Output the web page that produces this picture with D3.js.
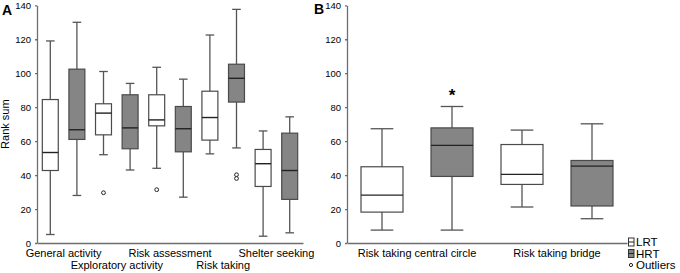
<!DOCTYPE html>
<html>
<head>
<meta charset="utf-8">
<script src="https://cdn.jsdelivr.net/npm/d3@7"></script>
<style>
body { margin: 0; background: #fff; }
svg { display: block; font-family: "Liberation Sans", Arial, sans-serif; }
</style>
</head>
<body>
<svg id="chart" width="680" height="273"></svg>
<script>
var svg = d3.select("#chart");

var groups = ["LRT", "HRT"];

// panel A
var catsA = ["General activity", "Exploratory activity", "Risk assessment", "Risk taking", "Shelter seeking"];
// order: cat0 LRT, cat0 HRT, cat1 LRT, ...
var lowA  = [5, 28, 52, 43, 44, 27, 52.5, 56, 4, 6];
var q1A   = [42.7, 61, 63.7, 55.5, 69, 53.7, 60.6, 83, 33.3, 25.7];
var medA  = [53.3, 66.7, 76.5, 67.8, 72.5, 67.3, 73.9, 97, 46.7, 42.7];
var q3A   = [84.5, 102.4, 82, 87.3, 87.3, 80.4, 89.4, 105.3, 55.1, 64.7];
var highA = [119, 130, 101, 94, 103.5, 96.5, 122.5, 137.6, 66, 74.3];
var outCat = ["Exploratory activity", "Risk assessment", "Risk taking", "Risk taking"];
var outGrp = ["LRT", "LRT", "HRT", "HRT"];
var outVal = [29.6, 31.4, 40.2, 38];

// panel B
var catsB = ["Risk taking central circle", "Risk taking bridge"];
var lowB  = [7.6, 7.6, 21.2, 14.3];
var q1B   = [18.2, 39.2, 34.5, 21.8];
var medB  = [28.2, 57.5, 40.4, 45.3];
var q3B   = [44.9, 67.8, 58, 48.6];
var highB = [67.3, 80.4, 66.5, 70.2];
var starCat = "Risk taking central circle", starGrp = "HRT";

var yTicks = [0, 20, 40, 60, 80, 100, 120, 140];
var legendLabels = ["LRT", "HRT", "Outliers"];

var yTop = 5.3, yBottom = 243;
var y = d3.scaleLinear().domain([0, 140]).range([yBottom, yTop]);

var fills = { LRT: "#ffffff", HRT: "#858585" };
var axisCol = "#6e6e6e";

function panel(cats, low, q1, med, q3, high, x0, x1, twoRows) {
	var g = svg.append("g");
	var xc = d3.scaleBand().domain(cats).range([x0, x1]);
	var xg = d3.scaleBand().domain(groups).range([0, xc.bandwidth()])
		.paddingInner(0.4).paddingOuter(0.2);

	var yAxis = g.append("g")
		.attr("transform", `translate(${x0},0)`)
		.call(d3.axisLeft(y).tickValues(yTicks).tickSize(2).tickSizeOuter(0).tickPadding(4));
	var xAxis = g.append("g")
		.attr("transform", `translate(0,${yBottom})`)
		.call(d3.axisBottom(xc).tickSize(0).tickPadding(6));
	[yAxis, xAxis].forEach(a => {
		a.selectAll("path, line").attr("stroke", axisCol).attr("stroke-width", 1.3);
		a.selectAll("text").attr("fill", "#000").attr("font-family", "Liberation Sans, Arial, sans-serif");
	});
	yAxis.selectAll("text").attr("font-size", "9.5px");
	xAxis.selectAll("text").attr("font-size", "11px")
		.attr("y", (d, i) => twoRows && i % 2 == 1 ? 18.5 : 6);

	var rows = [];
	cats.forEach((c, ci) => groups.forEach((gr, gi) => {
		var k = ci * 2 + gi;
		rows.push({ cat: c, grp: gr, low: low[k], q1: q1[k], med: med[k], q3: q3[k], high: high[k] });
	}));

	var bw = xg.bandwidth();
	var box = g.selectAll(".box").data(rows).enter().append("g")
		.attr("transform", d => `translate(${xc(d.cat) + xg(d.grp)},0)`);
	box.append("line")
		.attr("x1", bw / 2).attr("x2", bw / 2)
		.attr("y1", d => y(d.high)).attr("y2", d => y(d.low))
		.attr("stroke", "#555").attr("stroke-width", 1.3);
	box.selectAll(".cap").data(d => [d.low, d.high]).enter().append("line")
		.attr("x1", bw * 0.23).attr("x2", bw * 0.77)
		.attr("y1", d => y(d)).attr("y2", d => y(d))
		.attr("stroke", "#555").attr("stroke-width", 1.3);
	box.append("rect")
		.attr("x", 0).attr("width", bw)
		.attr("y", d => y(d.q3)).attr("height", d => y(d.q1) - y(d.q3))
		.attr("fill", d => fills[d.grp])
		.attr("stroke", "#4a4a4a").attr("stroke-width", 1.2);
	box.append("line")
		.attr("x1", 0).attr("x2", bw)
		.attr("y1", d => y(d.med)).attr("y2", d => y(d.med))
		.attr("stroke", "#222").attr("stroke-width", 1.4);

	return { g: g, xc: xc, xg: xg };
}

var pA = panel(catsA, lowA, q1A, medA, q3A, highA, 37, 303, true);
var pB = panel(catsB, lowB, q1B, medB, q3B, highB, 347, 627, false);

// outliers in A
pA.g.selectAll(".outlier").data(outVal).enter().append("circle")
	.attr("cx", (d, i) => pA.xc(outCat[i]) + pA.xg(outGrp[i]) + pA.xg.bandwidth() / 2)
	.attr("cy", d => y(d))
	.attr("r", 1.9)
	.attr("fill", "#fff").attr("stroke", "#222").attr("stroke-width", 1);

// significance star in B
pB.g.append("text")
	.attr("x", pB.xc(starCat) + pB.xg(starGrp) + pB.xg.bandwidth() / 2)
	.attr("y", y(highB[1]))
	.attr("dy", "-5px")
	.attr("text-anchor", "middle")
	.attr("font-size", "17px")
	.attr("font-weight", "bold")
	.text("*");

// panel letters
svg.append("text").attr("x", 2).attr("y", 15).attr("font-size", "14px").attr("font-weight", "bold").text("A");
svg.append("text").attr("x", 314).attr("y", 14).attr("font-size", "14px").attr("font-weight", "bold").text("B");

// y label
svg.append("text")
	.attr("transform", `translate(9,${(yTop + yBottom) / 2}) rotate(-90)`)
	.attr("text-anchor", "middle")
	.attr("font-size", "11px")
	.text("Rank sum");

// legend
var leg = svg.append("g").attr("transform", "translate(628,0)");
var legY = [242, 253.5, 265];
legendLabels.forEach((lab, i) => {
	var row = leg.append("g").attr("transform", `translate(0,${legY[i]})`);
	if (i < 2) {
		row.append("rect").attr("x", 0.5).attr("y", -4).attr("width", 5.5).attr("height", 8)
			.attr("fill", fills[lab]).attr("stroke", "#333").attr("stroke-width", 1);
		row.append("line").attr("x1", 0.5).attr("x2", 6).attr("y1", 0).attr("y2", 0)
			.attr("stroke", "#222").attr("stroke-width", 1);
	} else {
		row.append("circle").attr("cx", 3).attr("cy", 0).attr("r", 1.6)
			.attr("fill", "#fff").attr("stroke", "#222").attr("stroke-width", 1);
	}
	row.append("text").attr("x", 8).attr("y", 4.2).attr("font-size", "11.5px").text(lab);
});
</script>
</body>
</html>
